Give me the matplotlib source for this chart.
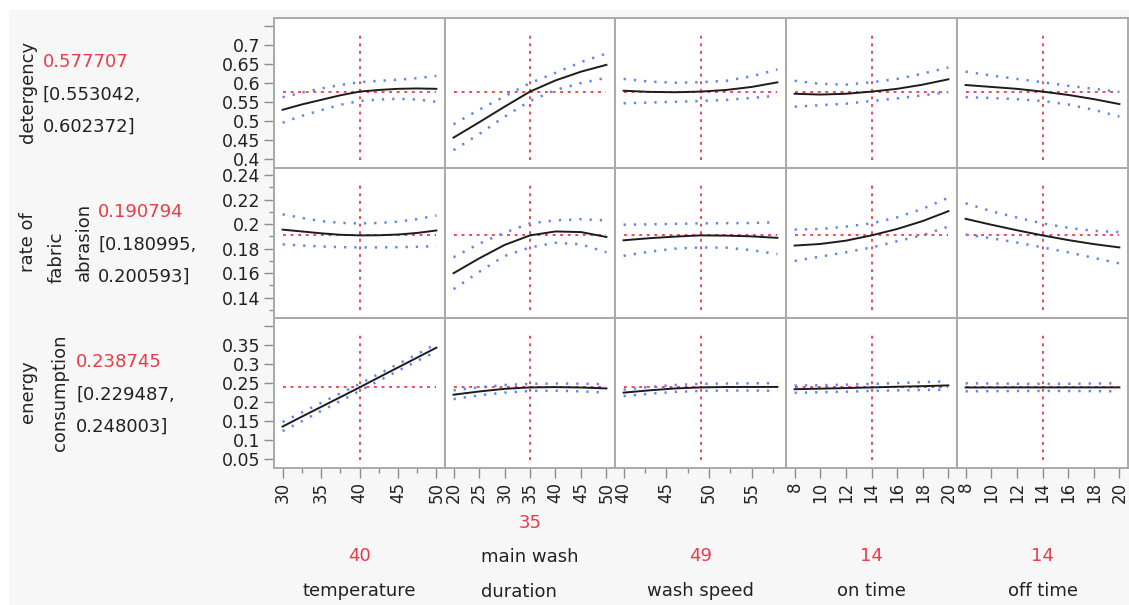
import matplotlib
matplotlib.use('Agg')
import matplotlib.pyplot as plt
from matplotlib.patches import Rectangle

# factors (columns of the profiler)
factor_names = ['temperature', 'main wash\nduration', 'wash speed', 'on time', 'off time']
factor_current = [40, 35, 49, 14, 14]
factor_x = [
    [30, 32.5, 35, 37.5, 40, 42.5, 45, 47.5, 50],
    [20, 25, 30, 35, 40, 45, 50],
    [40, 43, 46, 49, 52, 55, 58],
    [8, 10, 12, 14, 16, 18, 20],
    [8, 10, 12, 14, 16, 18, 20],
]
factor_ticks = [
    [30, 35, 40, 45, 50],
    [20, 25, 30, 35, 40, 45, 50],
    [40, 45, 50, 55],
    [8, 10, 12, 14, 16, 18, 20],
    [8, 10, 12, 14, 16, 18, 20],
]
factor_minor = [[32.5, 37.5, 42.5, 47.5], [], [42.5, 47.5, 52.5, 57.5], [], []]

# responses (rows)
resp_pred = [0.577707, 0.190794, 0.238745]
resp_lower_ci = [0.553042, 0.180995, 0.229487]
resp_upper_ci = [0.602372, 0.200593, 0.248003]
resp_ylim = [(0.3772, 0.7709), (0.1235, 0.2457), (0.0272, 0.4209)]
resp_ticks = [
    [0.4, 0.45, 0.5, 0.55, 0.6, 0.65, 0.7],
    [0.14, 0.16, 0.18, 0.2, 0.22, 0.24],
    [0.05, 0.1, 0.15, 0.2, 0.25, 0.3, 0.35],
]
resp_extra_ticks = [[0.75], [], [0.4]]
resp_minor = [[], [0.13, 0.15, 0.17, 0.19, 0.21, 0.23], []]

# detergency curves, one list per factor
det_mean = [
    [0.530, 0.544, 0.556, 0.568, 0.5777, 0.582, 0.585, 0.586, 0.585],
    [0.457, 0.497, 0.538, 0.5777, 0.607, 0.630, 0.648],
    [0.580, 0.577, 0.576, 0.5777, 0.582, 0.590, 0.602],
    [0.572, 0.570, 0.572, 0.5777, 0.585, 0.596, 0.610],
    [0.595, 0.590, 0.585, 0.5777, 0.569, 0.558, 0.545],
]
det_upper = [
    [0.563, 0.575, 0.586, 0.595, 0.6024, 0.606, 0.609, 0.613, 0.619],
    [0.492, 0.530, 0.565, 0.600, 0.627, 0.655, 0.678],
    [0.611, 0.604, 0.601, 0.6024, 0.606, 0.618, 0.636],
    [0.606, 0.598, 0.596, 0.6024, 0.611, 0.625, 0.641],
    [0.630, 0.620, 0.611, 0.6024, 0.593, 0.585, 0.577],
]
det_lower = [
    [0.496, 0.514, 0.529, 0.543, 0.553, 0.557, 0.559, 0.557, 0.551],
    [0.424, 0.466, 0.512, 0.553, 0.582, 0.600, 0.614],
    [0.547, 0.549, 0.551, 0.553, 0.556, 0.561, 0.567],
    [0.538, 0.542, 0.546, 0.553, 0.560, 0.568, 0.576],
    [0.563, 0.561, 0.558, 0.553, 0.544, 0.530, 0.512],
]

# rate of fabric abrasion
abr_mean = [
    [0.1955, 0.194, 0.1925, 0.1913, 0.1908, 0.1909, 0.1915, 0.1928, 0.1948],
    [0.160, 0.172, 0.183, 0.1908, 0.194, 0.1935, 0.1895],
    [0.1868, 0.1885, 0.1898, 0.1908, 0.1906, 0.1900, 0.1888],
    [0.1825, 0.1838, 0.1865, 0.1908, 0.1960, 0.2025, 0.2105],
    [0.2043, 0.1995, 0.1950, 0.1908, 0.1870, 0.1837, 0.1810],
]
abr_upper = [
    [0.208, 0.205, 0.2025, 0.2010, 0.2006, 0.2009, 0.2020, 0.2040, 0.2070],
    [0.173, 0.184, 0.193, 0.2006, 0.203, 0.204, 0.203],
    [0.1995, 0.1998, 0.2002, 0.2006, 0.2007, 0.2009, 0.2015],
    [0.1955, 0.1960, 0.1980, 0.2006, 0.2055, 0.2125, 0.2215],
    [0.2170, 0.2105, 0.2053, 0.2006, 0.1970, 0.1945, 0.1935],
]
abr_lower = [
    [0.1835, 0.1825, 0.1818, 0.1812, 0.1810, 0.1810, 0.1812, 0.1815, 0.1820],
    [0.147, 0.161, 0.174, 0.1810, 0.1848, 0.1835, 0.177],
    [0.1742, 0.1775, 0.1800, 0.1810, 0.1808, 0.1788, 0.1755],
    [0.1700, 0.1735, 0.1770, 0.1810, 0.1860, 0.1910, 0.1980],
    [0.1915, 0.1885, 0.1850, 0.1810, 0.1770, 0.1725, 0.1680],
]

# energy consumption
eng_mean = [
    [0.136, 0.162, 0.1875, 0.213, 0.2387, 0.265, 0.291, 0.317, 0.343],
    [0.2196, 0.228, 0.235, 0.2387, 0.2395, 0.2385, 0.236],
    [0.225, 0.231, 0.236, 0.2387, 0.2398, 0.240, 0.240],
    [0.234, 0.2355, 0.237, 0.2387, 0.2405, 0.242, 0.244],
    [0.2385, 0.2386, 0.2387, 0.2387, 0.2387, 0.2387, 0.2388],
]
eng_upper = [
    [0.148, 0.173, 0.198, 0.223, 0.248, 0.274, 0.300, 0.326, 0.353],
    [0.231, 0.239, 0.245, 0.248, 0.249, 0.2485, 0.247],
    [0.233, 0.240, 0.245, 0.248, 0.249, 0.2495, 0.250],
    [0.2435, 0.2445, 0.246, 0.248, 0.250, 0.2525, 0.255],
    [0.2495, 0.249, 0.2483, 0.248, 0.2483, 0.249, 0.2495],
]
eng_lower = [
    [0.124, 0.150, 0.177, 0.203, 0.2295, 0.256, 0.282, 0.308, 0.333],
    [0.208, 0.218, 0.225, 0.2295, 0.230, 0.2285, 0.225],
    [0.216, 0.222, 0.227, 0.2295, 0.2305, 0.2305, 0.230],
    [0.2245, 0.226, 0.2275, 0.2295, 0.231, 0.232, 0.233],
    [0.2285, 0.229, 0.2293, 0.2295, 0.2293, 0.229, 0.2285],
]

all_mean = [det_mean, abr_mean, eng_mean]
all_upper = [det_upper, abr_upper, eng_upper]
all_lower = [det_lower, abr_lower, eng_lower]

RED = '#ec3b48'
BLUE = '#5b85f2'
GRID = '#a9a9a9'
TXT = '#222222'
W, H = 1129, 605

col_edges = [274, 445, 615, 786, 957, 1128]
row_edges = [18, 168, 318, 468]

fig = plt.figure(figsize=(W / 100, H / 100), dpi=100, facecolor='white')
fig.patches.append(Rectangle((9 / W, 0), 1, 1 - 10 / H, transform=fig.transFigure,
                             facecolor='#f7f7f7', edgecolor='none', zorder=-10))


def px(x, y):
    return x / W, 1 - y / H


for r in range(3):
    for c in range(5):
        x0, x1 = col_edges[c], col_edges[c + 1]
        y0, y1 = row_edges[r], row_edges[r + 1]
        ax = fig.add_axes([x0 / W, 1 - y1 / H, (x1 - x0) / W, (y1 - y0) / H])
        xs = factor_x[c]
        span = xs[-1] - xs[0]
        ax.set_xlim(xs[0] - 0.056 * span, xs[-1] + 0.056 * span)
        ax.set_ylim(*resp_ylim[r])

        # crosshair at the current setting / predicted value
        ax.plot([xs[0], xs[-1]], [resp_pred[r], resp_pred[r]], color=RED, lw=1.3,
                ls=(0, (1.6, 2.6)), zorder=1)
        ax.axvline(factor_current[c], ymin=0.053, ymax=0.895, color=RED, lw=1.3,
                   ls=(0, (1.6, 2.6)), zorder=1)
        ax.plot(xs, all_upper[r][c], color=BLUE, lw=1.8, ls=(0, (0.9, 3.2)), zorder=2)
        ax.plot(xs, all_lower[r][c], color=BLUE, lw=1.8, ls=(0, (0.9, 3.2)), zorder=2)
        ax.plot(xs, all_mean[r][c], color='#1c1c1c', lw=1.4, zorder=3)

        for s in ax.spines.values():
            s.set_color(GRID)
            s.set_linewidth(1.4)
        ax.tick_params(which='both', color='#8c8c8c', labelcolor=TXT, width=1)
        ax.tick_params(which='major', length=7)
        ax.tick_params(which='minor', length=3.5)

        if c == 0:
            ticks = resp_ticks[r] + resp_extra_ticks[r]
            labels = [f'{t:g}' for t in resp_ticks[r]] + ['' for t in resp_extra_ticks[r]]
            ax.set_yticks(ticks, labels, fontsize=12.5)
            ax.set_yticks(resp_minor[r], minor=True)
            ax.tick_params(axis='y', pad=3)
        else:
            ax.set_yticks([])
        if r == 2:
            ax.set_xticks(factor_ticks[c], [f'{t:g}' for t in factor_ticks[c]],
                          fontsize=12, rotation=90)
            ax.set_xticks(factor_minor[c], minor=True)
            ax.tick_params(axis='x', pad=3)
        else:
            ax.set_xticks([])

# response labels on the left (rotated), one entry per line
resp_label_lines = [
    [('detergency', 28, 92)],
    [('rate of', 28, 242), ('fabric', 57, 257), ('abrasion', 84, 242)],
    [('energy', 28, 392), ('consumption', 60, 393)],
]
value_x = [43, 98, 76]
for r in range(3):
    for text, x, y in resp_label_lines[r]:
        fig.text(*px(x, y), text, rotation=90, ha='center', va='center',
                 fontsize=13, color=TXT)
    top = row_edges[r]
    fig.text(*px(value_x[r], top + 44), f'{resp_pred[r]:.6f}', ha='left', va='center',
             fontsize=13, color=RED)
    fig.text(*px(value_x[r], top + 77), f'[{resp_lower_ci[r]:.6f},', ha='left',
             va='center', fontsize=13, color=TXT)
    fig.text(*px(value_x[r], top + 109), f'{resp_upper_ci[r]:.6f}]', ha='left',
             va='center', fontsize=13, color=TXT)

# factor names and current settings underneath
for c in range(5):
    cx = (col_edges[c] + col_edges[c + 1]) / 2
    nlines = factor_names[c].count('\n') + 1
    fig.text(*px(cx, 556 - 33 * (nlines - 1)), f'{factor_current[c]:g}', ha='center',
             va='center', fontsize=13, color=RED)
    fig.text(*px(cx, 591 - 16.5 * (nlines - 1)), factor_names[c], ha='center',
             va='center', multialignment='left', linespacing=2.2, fontsize=13,
             color=TXT)

fig.savefig('out.png', dpi=100, facecolor=fig.get_facecolor())
